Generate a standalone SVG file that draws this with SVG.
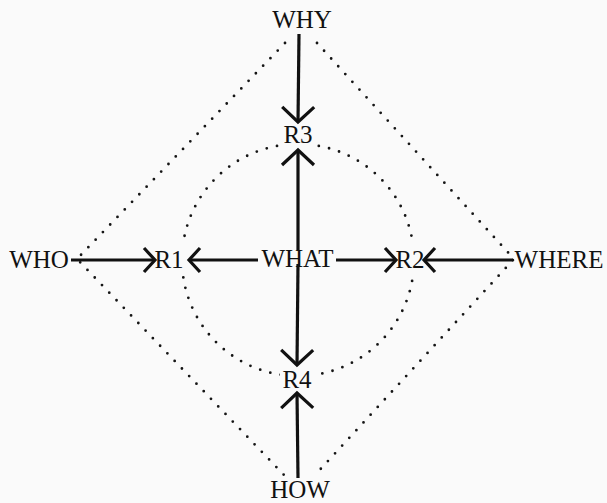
<svg xmlns="http://www.w3.org/2000/svg" width="607" height="503" viewBox="0 0 607 503">
  <style>
    .lbl { font-family: "Liberation Serif", "Times New Roman", serif; font-size: 25px; fill: #111; text-anchor: middle; }
    .arrow { stroke: #111; stroke-width: 3.2; fill: none; }
    .dots { stroke: #151515; stroke-width: 2.8; stroke-linecap: round; stroke-dasharray: 0 10.5; fill: none; }
    .head { stroke: #111; stroke-width: 3.2; fill: none; stroke-linejoin: miter; }
  </style>
  <defs>
    <marker id="mV" markerUnits="userSpaceOnUse" viewBox="-20 -20 24 40" markerWidth="24" markerHeight="40" refX="0" refY="0" orient="auto" overflow="visible">
      <path class="head" d="M -15 -16 L 0 0 L -15 16"/>
    </marker>
    <marker id="mH" markerUnits="userSpaceOnUse" viewBox="-20 -20 24 40" markerWidth="24" markerHeight="40" refX="0" refY="0" orient="auto" overflow="visible">
      <path class="head" d="M -11 -12 L 0 0 L -11 12"/>
    </marker>
    <mask id="cmask" maskUnits="userSpaceOnUse" x="0" y="0" width="607" height="503">
      <rect x="0" y="0" width="607" height="503" fill="#fff"/>
      <rect x="281" y="124" width="36" height="26" fill="#000"/>
      <rect x="150" y="244" width="38" height="28" fill="#000"/>
      <rect x="395" y="244" width="30" height="28" fill="#000"/>
      <rect x="280" y="366" width="36" height="26" fill="#000"/>
    </mask>
  </defs>
  <rect x="0" y="0" width="607" height="503" fill="#fafafa"/>

  <g id="dotted">
    <path class="dots" d="M 285 43 L 77 259 L 284 475"/>
    <path class="dots" d="M 317 43 L 514 259 L 316 474"/>
    <circle class="dots" cx="298" cy="260" r="116" mask="url(#cmask)"/>
  </g>

  <g id="connectors">
    <line class="arrow" x1="299" y1="34" x2="298" y2="122" marker-end="url(#mV)"/>
    <line class="arrow" x1="298" y1="250" x2="298" y2="150" marker-end="url(#mV)"/>
    <line class="arrow" x1="298" y1="264" x2="297" y2="365" marker-end="url(#mV)"/>
    <line class="arrow" x1="298" y1="478" x2="297" y2="393" marker-end="url(#mV)"/>
    <line class="arrow" x1="71" y1="260" x2="155" y2="260" marker-end="url(#mH)"/>
    <line class="arrow" x1="258" y1="260" x2="189" y2="260" marker-end="url(#mH)"/>
    <line class="arrow" x1="336" y1="260" x2="396" y2="260" marker-end="url(#mH)"/>
    <line class="arrow" x1="513" y1="260" x2="424" y2="260" marker-end="url(#mH)"/>
  </g>

  <g id="node-why"><text class="lbl" x="302" y="28">WHY</text></g>
  <g id="node-r3"><text class="lbl" x="298" y="143">R3</text></g>
  <g id="node-what"><text class="lbl" x="297.5" y="267">WHAT</text></g>
  <g id="node-who"><text class="lbl" x="39" y="268">WHO</text></g>
  <g id="node-r1"><text class="lbl" x="169" y="268">R1</text></g>
  <g id="node-r2"><text class="lbl" x="410" y="268">R2</text></g>
  <g id="node-where"><text class="lbl" x="559" y="268">WHERE</text></g>
  <g id="node-r4"><text class="lbl" x="297" y="388">R4</text></g>
  <g id="node-how"><text class="lbl" x="300" y="498">HOW</text></g>
</svg>
